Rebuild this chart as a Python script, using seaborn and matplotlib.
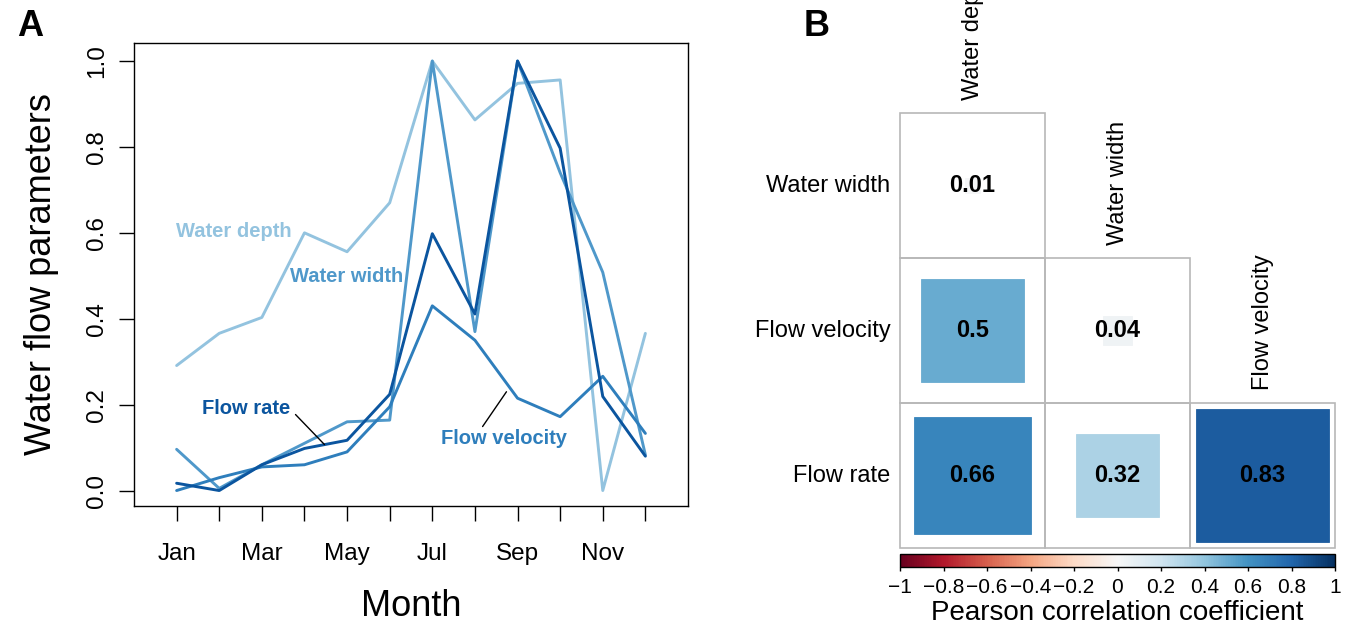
import numpy as np
import pandas as pd
import matplotlib
matplotlib.use("Agg")
import matplotlib.pyplot as plt
from matplotlib.colors import ListedColormap, Normalize
from matplotlib.patches import Rectangle
import matplotlib.cm as cm
import seaborn as sns

sns.set_theme(style="white")
plt.rcParams['font.family'] = ['Liberation Sans', 'DejaVu Sans']
plt.rcParams['text.color'] = 'black'
plt.rcParams['axes.labelcolor'] = 'black'
plt.rcParams['xtick.color'] = 'black'
plt.rcParams['ytick.color'] = 'black'

# ---------------- data ----------------
months = list(range(1, 13))
month_labels = ["Jan", "Feb", "Mar", "Apr", "May", "Jun",
                "Jul", "Aug", "Sep", "Oct", "Nov", "Dec"]
water_depth = [0.291, 0.366, 0.403, 0.600, 0.556, 0.670, 1.000, 0.863, 0.948, 0.956, 0.000, 0.366]
water_width = [0.096, 0.005, 0.060, 0.110, 0.160, 0.164, 1.000, 0.370, 1.000, 0.740, 0.508, 0.083]
flow_velocity = [0.000, 0.030, 0.055, 0.060, 0.090, 0.195, 0.430, 0.350, 0.215, 0.172, 0.266, 0.133]
flow_rate = [0.017, 0.000, 0.060, 0.098, 0.117, 0.224, 0.598, 0.411, 1.000, 0.797, 0.219, 0.080]

series_names = ["Water depth", "Water width", "Flow velocity", "Flow rate"]
series_colors = ["#93c3df", "#4f98ca", "#2e7ebc", "#0b559f"]

row_names = ["Water width", "Flow velocity", "Flow rate"]
col_names = ["Water depth", "Water width", "Flow velocity"]
corr_values = [[0.01, np.nan, np.nan],
               [0.50, 0.04, np.nan],
               [0.66, 0.32, 0.83]]
cbar_ticks = [-1, -0.8, -0.6, -0.4, -0.2, 0, 0.2, 0.4, 0.6, 0.8, 1]

# ---------------- figure ----------------
W, H = 1354, 633
fig = plt.figure(figsize=(W / 100, H / 100), dpi=100)

def px_axes(x0, y0, x1, y1):
    return fig.add_axes([x0 / W, 1 - y1 / H, (x1 - x0) / W, (y1 - y0) / H])

# ---- Panel A ----
axA = px_axes(134, 43, 688, 506)
df = pd.DataFrame({
    "month": months * 4,
    "value": water_depth + water_width + flow_velocity + flow_rate,
    "param": sum([[n] * 12 for n in series_names], []),
})
sns.lineplot(data=df, x="month", y="value", hue="param", hue_order=series_names,
             palette=dict(zip(series_names, series_colors)), linewidth=2.1,
             legend=False, ax=axA)
axA.set_xlim(0, 13)
axA.set_ylim(-0.036, 1.042)
axA.set_xticks(months)
axA.set_xticklabels([m if i % 2 == 0 else "" for i, m in enumerate(month_labels)],
                    fontsize=17.5)
axA.set_yticks([0, 0.2, 0.4, 0.6, 0.8, 1.0])
axA.set_yticklabels(["0.0", "0.2", "0.4", "0.6", "0.8", "1.0"], fontsize=17.5)
for lab in axA.get_yticklabels():
    lab.set_rotation(90)
    lab.set_va("center")
axA.tick_params(axis="both", direction="out", length=10.5, width=1, color="black",
                left=True, bottom=True)
axA.tick_params(axis="y", pad=8)
axA.tick_params(axis="x", pad=16)
for s in axA.spines.values():
    s.set_color("black")
    s.set_linewidth(1.0)
axA.set_xlabel("Month", fontsize=26)
axA.set_ylabel("Water flow parameters", fontsize=26)
axA.xaxis.set_label_coords(0.5, -0.18)
axA.yaxis.set_label_coords(-0.135, 0.5)

# inline labels
axA.text(2.34, 0.602, "Water depth", color=series_colors[0], fontsize=14.5,
         fontweight="bold", ha="center", va="center")
axA.text(4.99, 0.498, "Water width", color=series_colors[1], fontsize=14.5,
         fontweight="bold", ha="center", va="center")
axA.text(2.64, 0.191, "Flow rate", color=series_colors[3], fontsize=14.5,
         fontweight="bold", ha="center", va="center")
axA.text(8.69, 0.121, "Flow velocity", color=series_colors[2], fontsize=14.5,
         fontweight="bold", ha="center", va="center")
axA.plot([3.79, 4.47], [0.177, 0.107], color="black", lw=1)
axA.plot([8.18, 8.74], [0.149, 0.230], color="black", lw=1)

fig.text(30 / W, 1 - 27 / H, "A", fontsize=26, fontweight="bold", ha="center", va="center")
fig.text(817 / W, 1 - 27 / H, "B", fontsize=26, fontweight="bold", ha="center", va="center")

# ---- Panel B ----
axB = px_axes(900, 113, 1335, 548)
cdf = pd.DataFrame(corr_values, index=row_names, columns=col_names)
mask = cdf.isna()
sns.heatmap(cdf, mask=mask, cmap=ListedColormap(["white"]), cbar=False,
            linewidths=0, square=False,
            xticklabels=False, yticklabels=True, ax=axB)
axB.set_yticklabels(row_names, rotation=0, fontsize=17)
axB.tick_params(axis="y", length=0, pad=7)
axB.set_xlabel("")
axB.set_ylabel("")

cmap = plt.get_cmap("RdBu")
norm = Normalize(-1, 1)
for i, row in enumerate(corr_values):
    for j, v in enumerate(row):
        if np.isnan(v):
            continue
        # cell border
        axB.add_patch(Rectangle((j, i), 1, 1, facecolor="none", edgecolor="#b8b8b8",
                                lw=1.2, zorder=2, clip_on=False))
        side = np.sqrt(abs(v))
        axB.add_patch(Rectangle((j + 0.5 - side / 2, i + 0.5 - side / 2), side, side,
                                facecolor=cmap(norm(v)), edgecolor=cmap(norm(v)),
                                lw=0.6, zorder=3))
        axB.text(j + 0.5, i + 0.5, f"{v:g}", ha="center", va="center",
                 fontsize=17, fontweight="bold", color="black", zorder=4)

# column labels on the diagonal
for j, name in enumerate(col_names):
    axB.text(j + 0.5, j - 0.09, name, rotation=90, ha="center", va="bottom",
             fontsize=17, color="black", clip_on=False)

# ---- colorbar ----
cax = px_axes(900, 554, 1335, 567)
sm = cm.ScalarMappable(norm=norm, cmap=cmap)
cb = fig.colorbar(sm, cax=cax, orientation="horizontal")
cb.set_ticks(cbar_ticks)
cb.set_ticklabels([f"{t:g}".replace("-", "\u2212") for t in cbar_ticks])
cax.tick_params(labelsize=15, length=3, width=1, color="black", pad=5)
cb.outline.set_edgecolor("black")
cb.outline.set_linewidth(1.0)
cb.set_label("Pearson correlation coefficient", fontsize=20, labelpad=2)

fig.savefig("out.png", dpi=100)
